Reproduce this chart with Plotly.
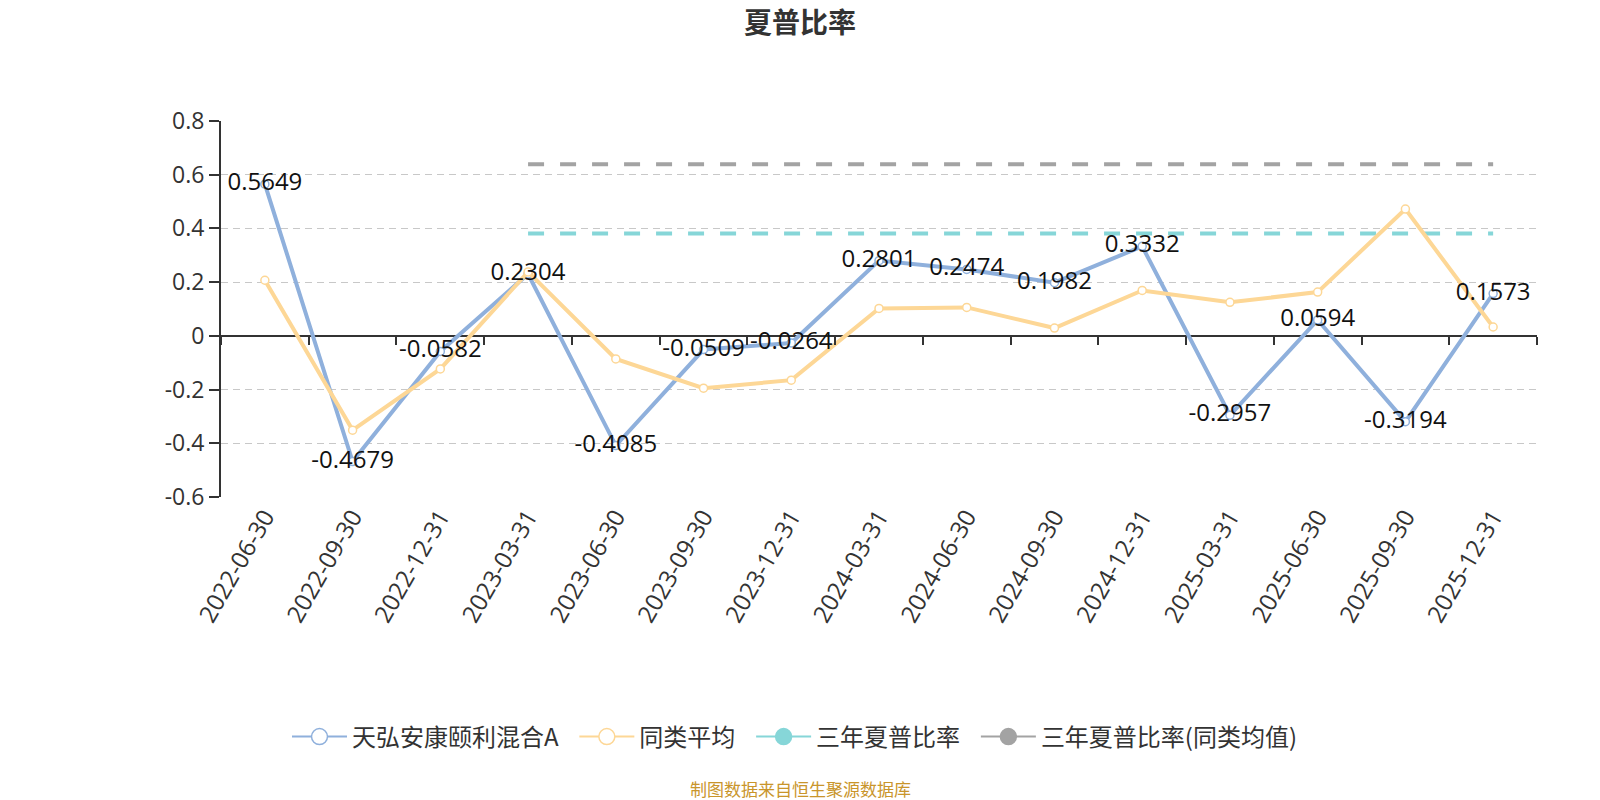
import plotly.graph_objects as go

dates = ["2022-06-30", "2022-09-30", "2022-12-31", "2023-03-31", "2023-06-30",
         "2023-09-30", "2023-12-31", "2024-03-31", "2024-06-30", "2024-09-30",
         "2024-12-31", "2025-03-31", "2025-06-30", "2025-09-30", "2025-12-31"]
fund = [0.5649, -0.4679, -0.0582, 0.2304, -0.4085, -0.0509, -0.0264, 0.2801,
        0.2474, 0.1982, 0.3332, -0.2957, 0.0594, -0.3194, 0.1573]
peer_avg = [0.207, -0.351, -0.123, 0.238, -0.086, -0.195, -0.165, 0.102,
            0.106, 0.029, 0.169, 0.125, 0.163, 0.472, 0.033]
sharpe3y = [None, None, None] + [0.381] * 12
sharpe3y_peer = [None, None, None] + [0.639] * 12

names = ["天弘安康颐利混合A", "同类平均", "三年夏普比率", "三年夏普比率(同类均值)"]
title_text = "夏普比率"
footer_text = "制图数据来自恒生聚源数据库"

BLUE = "#8fb0dc"
ORANGE = "#fdd796"
CYAN = "#86d6d8"
GRAY = "#a3a3a3"
FONT = "Open Sans, Noto Sans CJK SC, sans-serif"
CJK = "Noto Sans CJK SC, sans-serif"

L, R, T, B = 221, 63, 121, 303
W, H = 1600, 800
PW, PH = W - L - R, H - T - B
cx = (W / 2 - L) / PW  # paper x of page centre

fig = go.Figure()

fig.add_trace(go.Scatter(x=dates, y=sharpe3y, mode="lines", showlegend=False,
                         line=dict(color=CYAN, width=4, dash="16px,16px"), hoverinfo="skip"))
fig.add_trace(go.Scatter(x=dates, y=sharpe3y_peer, mode="lines", showlegend=False,
                         line=dict(color=GRAY, width=4, dash="16px,16px"), hoverinfo="skip"))

fig.add_trace(go.Scatter(x=dates, y=fund, mode="lines+markers", showlegend=False,
                         line=dict(color=BLUE, width=4),
                         marker=dict(symbol="circle", size=8, color="white",
                                     line=dict(color=BLUE, width=1.5))))
fig.add_trace(go.Scatter(x=dates, y=peer_avg, mode="lines+markers", showlegend=False,
                         line=dict(color=ORANGE, width=4),
                         marker=dict(symbol="circle", size=8, color="white",
                                     line=dict(color=ORANGE, width=1.5))))
fig.add_trace(go.Scatter(x=dates, y=fund, mode="text", showlegend=False,
                         text=[f"{v:.4f}" for v in fund], textposition="middle center",
                         textfont=dict(size=24, color="#111", family=FONT), hoverinfo="skip"))

legend_styles = [(BLUE, "white"), (ORANGE, "white"), (CYAN, CYAN), (GRAY, GRAY)]
for nm, (c, fill) in zip(names, legend_styles):
    fig.add_trace(go.Scatter(x=[dates[0]], y=[None], mode="lines+markers",
                             name=nm + "\u00a0\u00a0",
                             line=dict(color=c, width=2),
                             marker=dict(symbol="circle", size=16, color=fill,
                                         line=dict(color=c, width=1.5))))

fig.add_trace(go.Scatter(x=dates, y=[None] * len(dates), xaxis="x2", mode="lines",
                         showlegend=False, hoverinfo="skip"))

ymin, ymax = -0.6, 0.8
fig.update_layout(
    width=W, height=H,
    paper_bgcolor="white", plot_bgcolor="white",
    margin=dict(l=L, r=R, t=T, b=B),
    title=dict(text=title_text, x=0.5, xanchor="center", y=1 - 23 / H, yanchor="middle",
               yref="container", font=dict(family=CJK, size=28, color="#333", weight="bold")),
    font=dict(family=FONT, color="#333"),
    xaxis=dict(type="category", categoryorder="array", categoryarray=dates,
               range=[-0.5, len(dates) - 0.5], showgrid=False, showline=False,
               zeroline=False, ticks="", tickangle=-60,
               tickfont=dict(size=24, color="#333", family=FONT)),
    xaxis2=dict(type="category", categoryorder="array", categoryarray=dates,
                range=[-0.5, len(dates) - 0.5], overlaying="x", anchor="free",
                position=(0 - ymin) / (ymax - ymin), side="bottom",
                tickson="boundaries", ticks="outside", ticklen=8, tickwidth=2,
                tickcolor="#333", showticklabels=False, showgrid=False,
                showline=False, zeroline=False),
    yaxis=dict(range=[ymin, ymax], tickvals=[-0.6, -0.4, -0.2, 0, 0.2, 0.4, 0.6, 0.8],
               ticktext=["-0.6", "-0.4", "-0.2", "0", "0.2", "0.4", "0.6", "0.8"],
               showline=True, linecolor="#333", linewidth=2,
               ticks="outside", ticklen=10, tickwidth=2, tickcolor="#333",
               showgrid=True, gridcolor="#c8c8c8", gridwidth=1, griddash="7px,5px",
               zeroline=True, zerolinecolor="#333", zerolinewidth=2,
               tickfont=dict(size=23, color="#333", family=FONT)),
    legend=dict(orientation="h", x=cx, xanchor="center", y=(H - B - 737) / PH,
                yanchor="middle", font=dict(size=24, color="#333", family=CJK),
                bgcolor="rgba(0,0,0,0)", itemwidth=55),
    annotations=[dict(text=footer_text, xref="paper", yref="paper", x=cx,
                      y=(H - B - 788) / PH, xanchor="center", yanchor="middle",
                      showarrow=False, font=dict(size=17, color="#c9952b", family=CJK))],
    showlegend=True,
)

fig.write_html("out.html")
